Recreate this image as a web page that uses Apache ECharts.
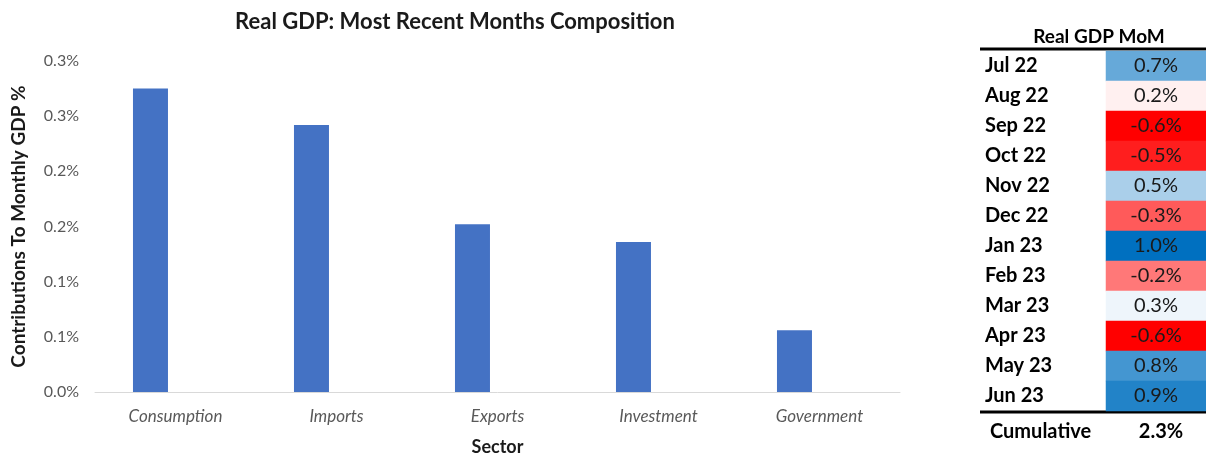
<!DOCTYPE html>
<html>
<head>
<meta charset="utf-8">
<script src="https://cdn.jsdelivr.net/npm/echarts@6/dist/echarts.min.js"></script>
<style>
  html, body { margin: 0; padding: 0; background: #fff; }
  #main { width: 1206px; height: 458px; }
</style>
</head>
<body>
<div id="main"></div>
<script>
// contribution to monthly GDP, in percentage points
var sectors = ['Consumption', 'Imports', 'Exports', 'Investment', 'Government'];
var contributions = [0.275, 0.242, 0.152, 0.136, 0.056];
var yTicks = [0, 0.05, 0.1, 0.15, 0.2, 0.25, 0.3];

// table on the right
var months = ['Jul 22', 'Aug 22', 'Sep 22', 'Oct 22', 'Nov 22', 'Dec 22',
              'Jan 23', 'Feb 23', 'Mar 23', 'Apr 23', 'May 23', 'Jun 23'];
var momValues = [0.7, 0.2, -0.6, -0.5, 0.5, -0.3, 1.0, -0.2, 0.3, -0.6, 0.8, 0.9];
var cumulative = 2.3;

var font = 'Lato, "Open Sans", sans-serif';

// excel-like 3 colour scale: min red, median white, max blue
function scaleColor(v) {
  var sorted = momValues.slice().sort(function (a, b) { return a - b; });
  var n = sorted.length;
  var mid = n % 2 ? sorted[(n - 1) / 2] : (sorted[n / 2 - 1] + sorted[n / 2]) / 2;
  var lo = sorted[0], hi = sorted[n - 1];
  var from, to, t;
  if (v <= mid) { from = [255, 0, 0]; to = [255, 255, 255]; t = (v - lo) / (mid - lo); }
  else { from = [255, 255, 255]; to = [0, 112, 192]; t = (v - mid) / (hi - mid); }
  var c = from.map(function (f, i) { return Math.round(f + (to[i] - f) * t); });
  return 'rgb(' + c.join(',') + ')';
}

var chart = echarts.init(document.getElementById('main'));

var option = {
  backgroundColor: '#ffffff',
  animation: false,
  title: [{
    text: 'Real GDP: Most Recent Months Composition',
    left: 450, top: 6, textAlign: 'center',
    textStyle: { fontFamily: font, fontSize: 22, fontWeight: 'bold', color: '#1a1a1a' }
  }, {
    text: 'Real GDP MoM',
    left: 1094, top: 22, textAlign: 'center',
    textStyle: { fontFamily: font, fontSize: 19, fontWeight: 'bold', color: '#000' }
  }, {
    text: 'Cumulative',
    left: 985, top: 417,
    textStyle: { fontFamily: font, fontSize: 20, fontWeight: 'bold', color: '#000' }
  }, {
    text: cumulative.toFixed(1) + '%',
    left: 1156, top: 417, textAlign: 'center',
    textStyle: { fontFamily: font, fontSize: 20, fontWeight: 'bold', color: '#000' }
  }],
  grid: [
    { left: 95, right: 306, top: 61, bottom: 66, outerBoundsMode: 'none', containLabel: false },
    { left: 1106, right: 0, top: 51, height: 360, outerBoundsMode: 'none', containLabel: false }
  ],
  xAxis: [{
    gridIndex: 0,
    type: 'category',
    data: sectors,
    name: 'Sector',
    nameLocation: 'middle',
    nameGap: 46,
    nameTextStyle: { fontFamily: font, fontSize: 18, fontWeight: 'bold', color: '#1a1a1a' },
    axisLine: { lineStyle: { color: '#d9d9d9', width: 1 } },
    axisTick: { show: false },
    axisLabel: { fontFamily: font, fontSize: 17, fontStyle: 'italic', color: '#595959', margin: 16 }
  }, {
    gridIndex: 1,
    type: 'category',
    data: ['MoM'],
    show: false
  }],
  yAxis: [{
    gridIndex: 0,
    type: 'value',
    min: yTicks[0],
    max: yTicks[yTicks.length - 1],
    interval: yTicks[1] - yTicks[0],
    name: 'Contributions To Monthly GDP %',
    nameLocation: 'middle',
    nameGap: 67,
    nameTextStyle: { fontFamily: font, fontSize: 19, fontWeight: 'bold', color: '#1a1a1a' },
    axisLine: { show: false },
    axisTick: { show: false },
    splitLine: { show: false },
    axisLabel: {
      fontFamily: font, fontSize: 16, color: '#595959', margin: 16,
      formatter: function (v) { return (Math.round(v * 10 + 1e-9) / 10).toFixed(1) + '%'; }
    }
  }, {
    gridIndex: 1,
    type: 'category',
    data: months,
    inverse: true,
    axisLine: { show: false },
    axisTick: { show: false },
    splitLine: { show: false },
    axisLabel: {
      fontFamily: font, fontSize: 20, fontWeight: 'bold', color: '#000',
      align: 'left', margin: 121
    }
  }],
  graphic: [
    { type: 'line', shape: { x1: 980, y1: 49, x2: 1206, y2: 49 }, style: { stroke: '#000', lineWidth: 3 } },
    { type: 'line', shape: { x1: 980, y1: 412, x2: 1206, y2: 412 }, style: { stroke: '#000', lineWidth: 3 } }
  ],
  series: [{
    type: 'bar',
    xAxisIndex: 0, yAxisIndex: 0,
    data: contributions,
    barWidth: 35,
    barGap: '43%',
    itemStyle: { color: '#4472c4' }
  }, {
    type: 'bar',
    xAxisIndex: 0, yAxisIndex: 0,
    data: sectors.map(function () { return null; }),
    barWidth: 35
  }, {
    type: 'heatmap',
    xAxisIndex: 1, yAxisIndex: 1,
    data: momValues.map(function (v, i) {
      return { value: [0, i, v], itemStyle: { color: scaleColor(v) } };
    }),
    label: {
      show: true,
      fontFamily: font, fontSize: 20, color: '#1a1a1a',
      formatter: function (p) { return p.value[2].toFixed(1) + '%'; }
    }
  }]
};

chart.setOption(option);
</script>
</body>
</html>
